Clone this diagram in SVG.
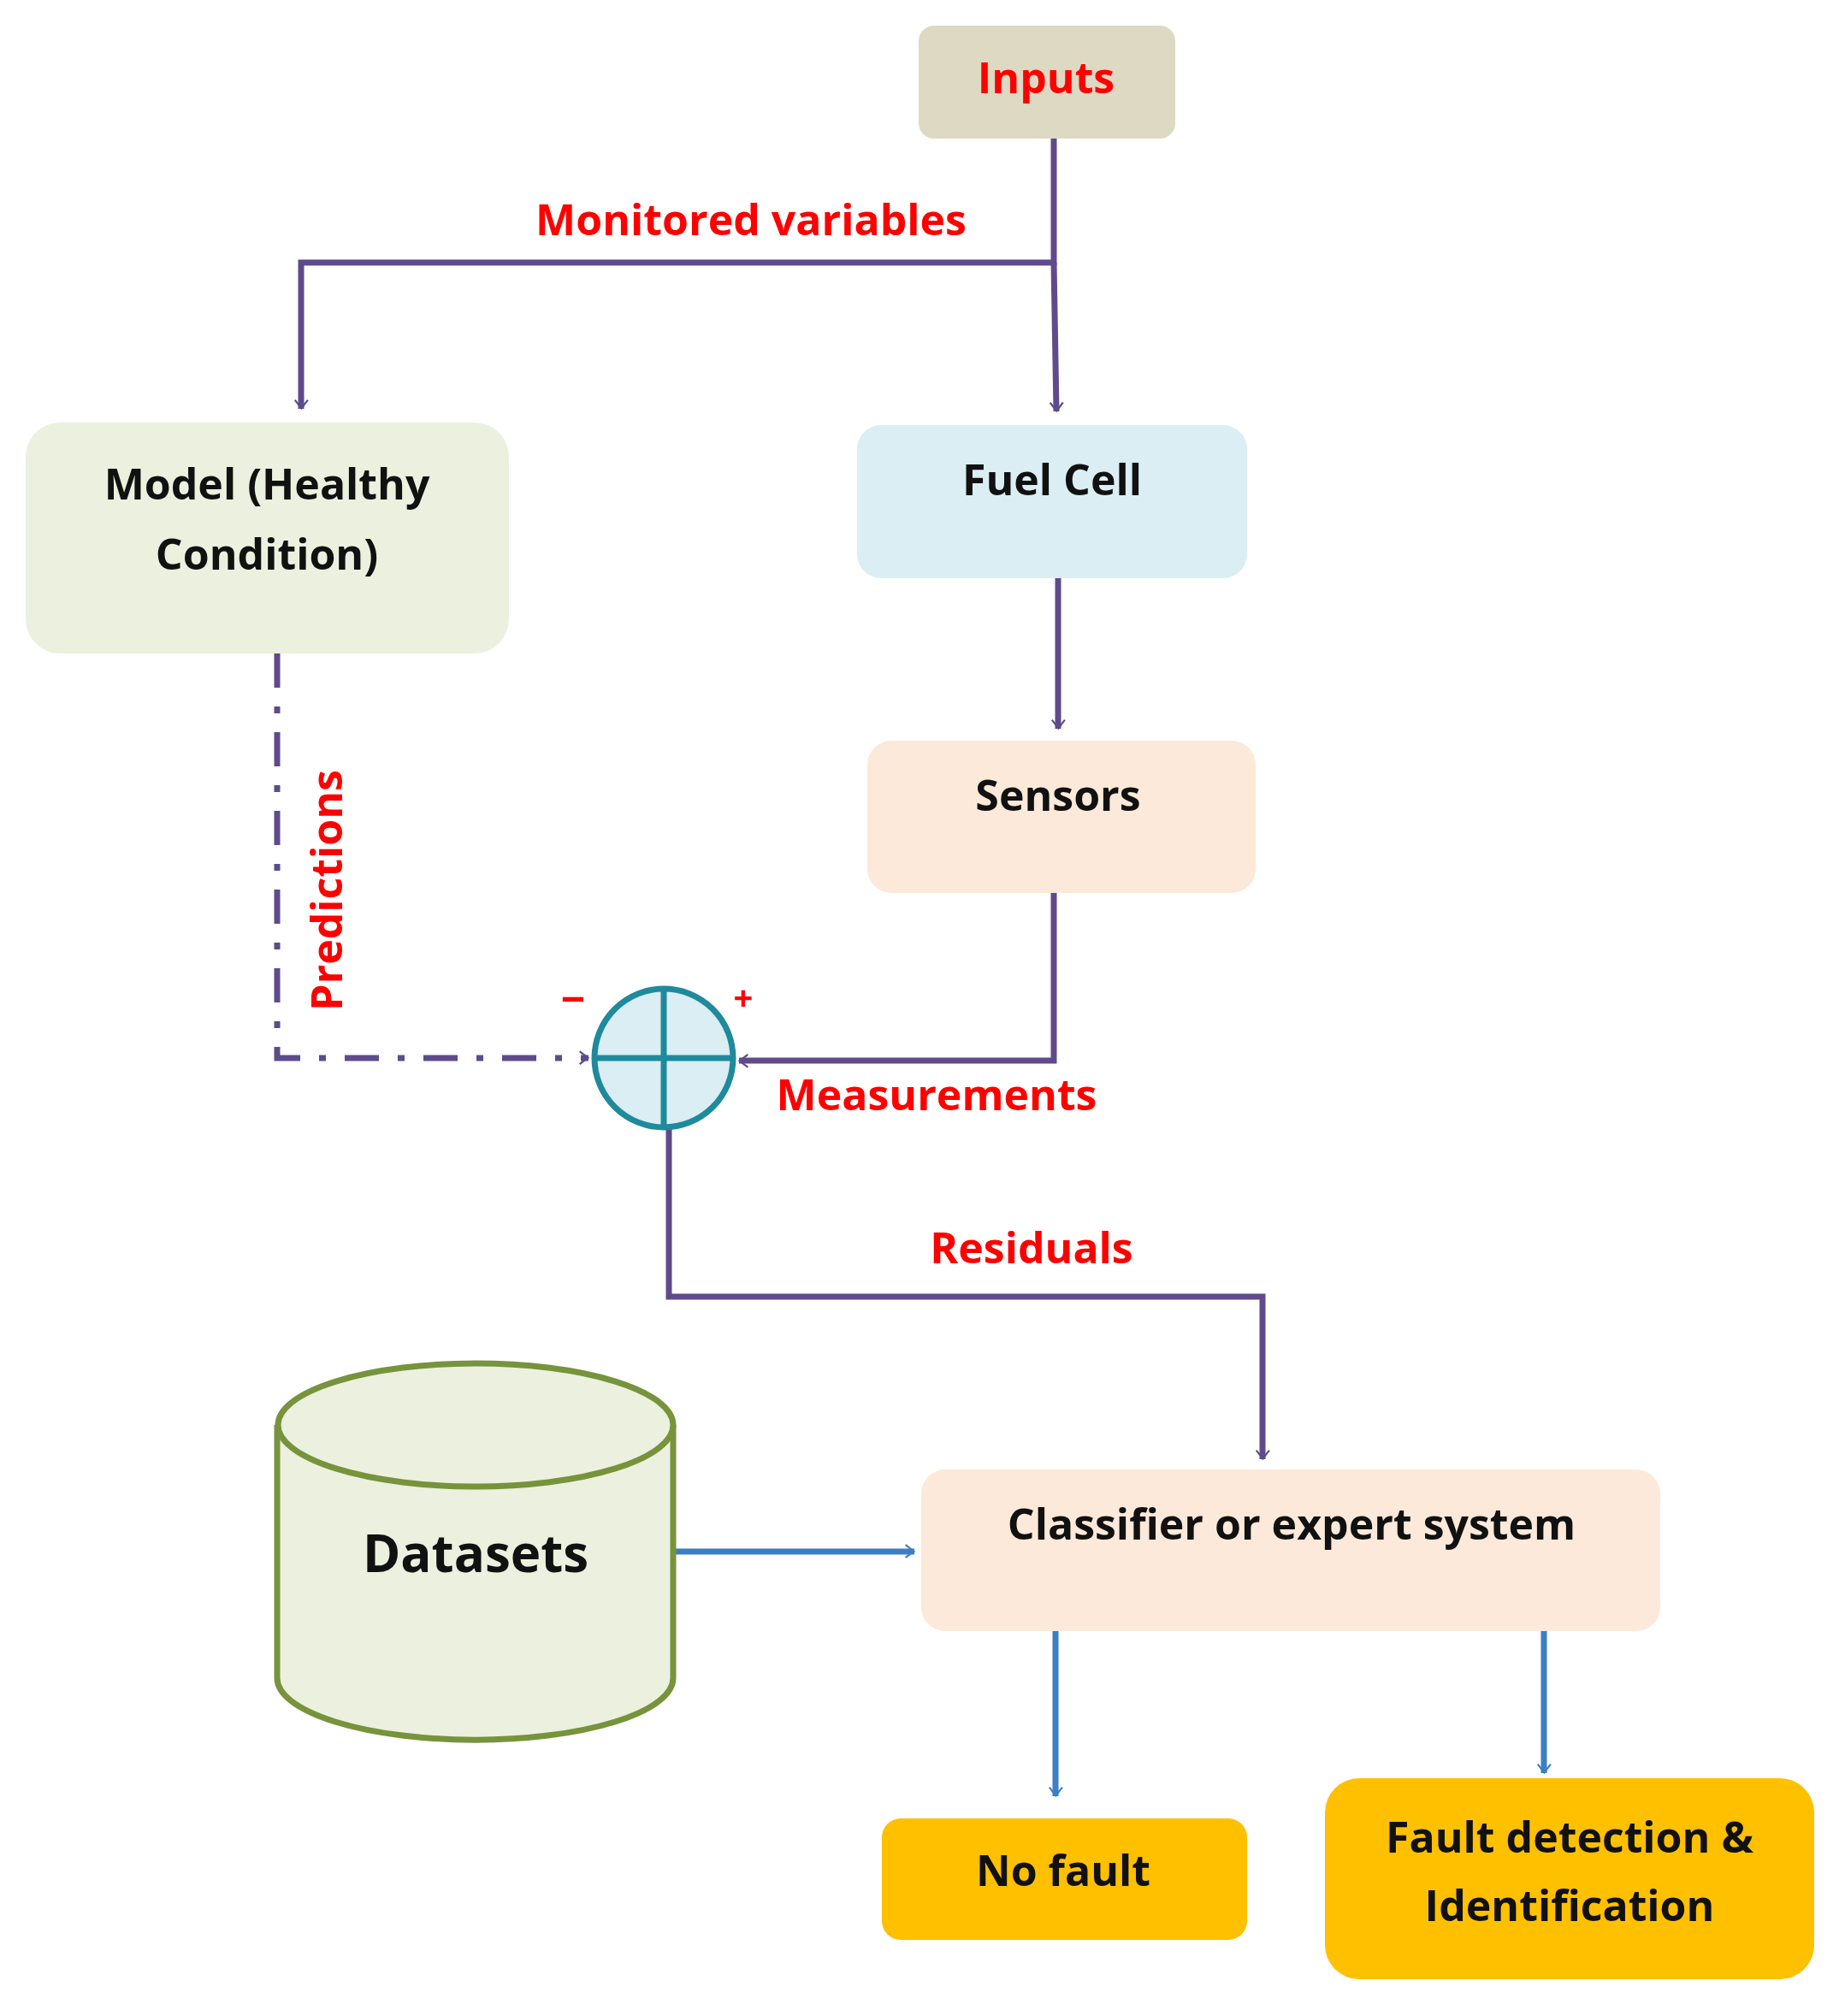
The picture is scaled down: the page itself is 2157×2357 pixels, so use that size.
<svg xmlns="http://www.w3.org/2000/svg" width="2157" height="2357" viewBox="0 0 2157 2357">
<defs>
<marker id="ap" viewBox="0 0 20 20" refX="17" refY="10" markerWidth="7" markerHeight="7" markerUnits="userSpaceOnUse" orient="auto" style="overflow:visible"><path d="M-14,-14 L17,10 L-14,34" transform="scale(0.9)" fill="none" stroke="#5f4b8b" stroke-width="7"/></marker>
<marker id="ab" viewBox="0 0 20 20" refX="17" refY="10" markerWidth="7" markerHeight="7" markerUnits="userSpaceOnUse" orient="auto" style="overflow:visible"><path d="M-14,-14 L17,10 L-14,34" transform="scale(0.9)" fill="none" stroke="#3c7fc4" stroke-width="7"/></marker>
</defs>
<style>
text{font-family:"Open Sans","Liberation Sans",sans-serif;font-weight:bold;text-anchor:middle;dominant-baseline:middle}
.n{fill:#111;font-size:50px}
.r{fill:#ff0000;font-size:50px}
.p{fill:none;stroke:#5f4b8b;stroke-width:7}
.b{fill:none;stroke:#3c7fc4;stroke-width:7}
</style>
<rect width="2157" height="2357" fill="#fff"/>
<g id="connectors">
<path class="p" d="M1232,162 V307 H352 V478" marker-end="url(#ap)"/>
<path class="p" d="M1232,307 L1235,481" marker-end="url(#ap)"/>
<path class="p" d="M1237,676 V852" marker-end="url(#ap)"/>
<path class="p" d="M1232,1044 V1240 H864" marker-end="url(#ap)"/>
<path class="p" d="M324,764 V1237 H688" stroke-dasharray="40,22,8,22" marker-end="url(#ap)"/>
<path class="p" d="M782,1319 V1516 H1476 V1706" marker-end="url(#ap)"/>
<path class="b" d="M787,1814 H1069" marker-end="url(#ab)"/>
<path class="b" d="M1234,1907 V2100" marker-end="url(#ab)"/>
<path class="b" d="M1805,1907 V2073" marker-end="url(#ab)"/>
<text class="r" x="878" y="262">Monitored variables</text>
<text class="r" x="387" y="1041" transform="rotate(-90 387 1041)">Predictions</text>
<text class="r" x="1095" y="1285">Measurements</text>
<text class="r" x="1206" y="1464">Residuals</text>
</g>
<g id="inputs"><rect x="1074" y="30" width="300" height="132" rx="18" fill="#ddd9c3"/><text class="r" x="1223" y="96">Inputs</text></g>
<g id="model"><rect x="30" y="494" width="565" height="270" rx="40" fill="#ebf1de"/><text class="n" x="312" y="571">Model (Healthy</text><text class="n" x="312" y="653">Condition)</text></g>
<g id="fuelcell"><rect x="1002" y="497" width="456" height="179" rx="28" fill="#dbeef4"/><text class="n" x="1230" y="566">Fuel Cell</text></g>
<g id="sensors"><rect x="1014" y="866" width="454" height="178" rx="28" fill="#fde9d9"/><text class="n" x="1237" y="935">Sensors</text></g>
<g id="sum"><circle cx="776" cy="1237" r="81" fill="#daeef3" stroke="#1f8a9c" stroke-width="7"/><path d="M776,1156 V1318 M695,1237 H857" stroke="#1f8a9c" stroke-width="7"/><text class="r" x="670" y="1173">−</text><text class="r" x="869" y="1170" style="font-size:40px">+</text></g>
<g id="datasets"><path d="M324,1666 V1962 A231,72 0 0 0 787,1962 V1666" fill="#ebf1de" stroke="#77933c" stroke-width="7"/><ellipse cx="556" cy="1666" rx="231" ry="72" fill="#ebf1de" stroke="#77933c" stroke-width="7"/><text class="n" x="556" y="1822" style="font-size:60px">Datasets</text></g>
<g id="classifier"><rect x="1077" y="1718" width="864" height="189" rx="28" fill="#fde9d9"/><text class="n" x="1510" y="1787">Classifier or expert system</text></g>
<g id="nofault"><rect x="1031" y="2126" width="427" height="142" rx="22" fill="#ffc000"/><text class="n" x="1243" y="2192">No fault</text></g>
<g id="fault"><rect x="1549" y="2079" width="572" height="235" rx="40" fill="#ffc000"/><text class="n" x="1835" y="2153">Fault detection &amp;</text><text class="n" x="1835" y="2233">Identification</text></g>
</svg>
